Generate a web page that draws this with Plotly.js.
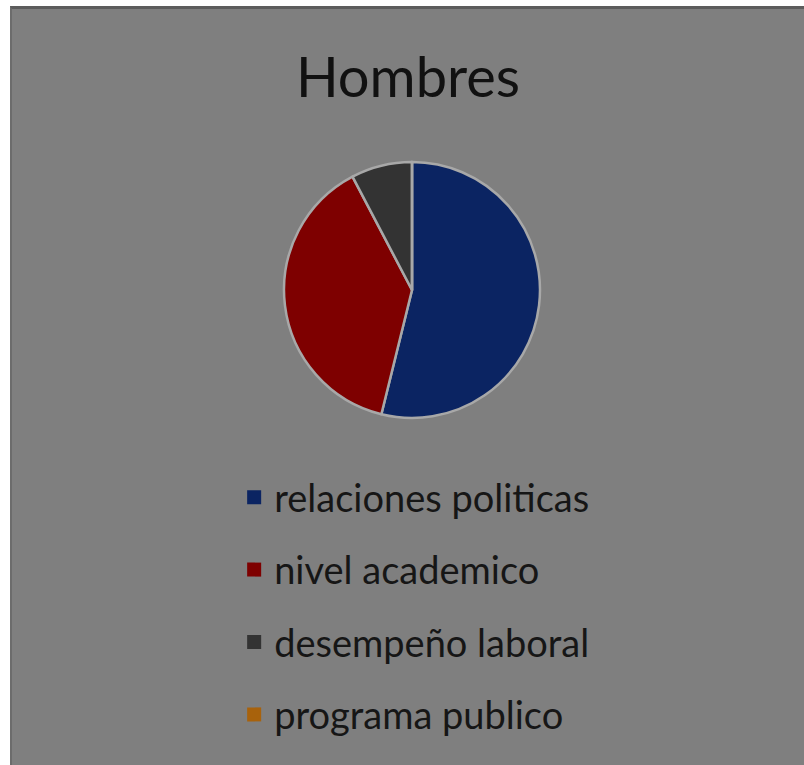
<!DOCTYPE html>
<html>
<head>
<meta charset="utf-8">
<script src="https://cdn.plot.ly/plotly-3.0.1.min.js"></script>
<style>
  html, body { margin: 0; padding: 0; background: #ffffff; width: 804px; height: 765px; overflow: hidden; }
  #wrap { position: absolute; left: 10px; top: 6px; border-top: 3px solid #5c5c5c; border-left: 2px solid #6c6c6c; }
  #chart { width: 792px; height: 756px; }
</style>
</head>
<body>
<div id="wrap"><div id="chart"></div></div>
<script>
const titleText = "Hombres";
const labels = ["relaciones politicas", "nivel academico", "desempeño laboral", "programa publico"];
const values = [7, 5, 1, 0];
const colors = ["#0b2462", "#7e0000", "#333333", "#a8620c"];

const traces = [{
  type: "pie",
  labels: labels,
  values: values,
  sort: false,
  direction: "clockwise",
  rotation: 0,
  textinfo: "none",
  hoverinfo: "label+value+percent",
  showlegend: false,
  marker: { colors: colors, line: { color: "#a8a8a8", width: 2.5 } },
  domain: { x: [0.3434, 0.6667], y: [0.459, 0.7976] }
}];

labels.forEach((lab, i) => {
  traces.push({
    type: "scatter",
    mode: "markers",
    x: [null], y: [null],
    name: lab,
    legendgroup: "g" + i,
    marker: { symbol: "square", size: 14, color: colors[i] },
    hoverinfo: "skip",
    showlegend: true
  });
});

const layout = {
  width: 792,
  height: 756,
  margin: { l: 0, r: 0, t: 0, b: 0 },
  paper_bgcolor: "#7f7f7f",
  plot_bgcolor: "#7f7f7f",
  font: { family: "Lato, 'Open Sans', sans-serif", color: "#161616" },
  title: {
    text: titleText,
    font: { family: "Lato, sans-serif", size: 56, color: "#111111" },
    x: 0.5, xanchor: "center",
    y: 0.909, yanchor: "middle", yref: "paper"
  },
  xaxis: { visible: false, showgrid: false, zeroline: false },
  yaxis: { visible: false, showgrid: false, zeroline: false },
  showlegend: true,
  legend: {
    x: 0.2805, xanchor: "left",
    y: 0.3955, yanchor: "top",
    orientation: "v",
    traceorder: "grouped",
    tracegroupgap: 20,
    bgcolor: "rgba(0,0,0,0)",
    font: { family: "Lato, sans-serif", size: 38, color: "#161616" },
    itemclick: false, itemdoubleclick: false
  }
};

Plotly.newPlot("chart", traces, layout, { displayModeBar: false, staticPlot: true });
</script>
</body>
</html>
